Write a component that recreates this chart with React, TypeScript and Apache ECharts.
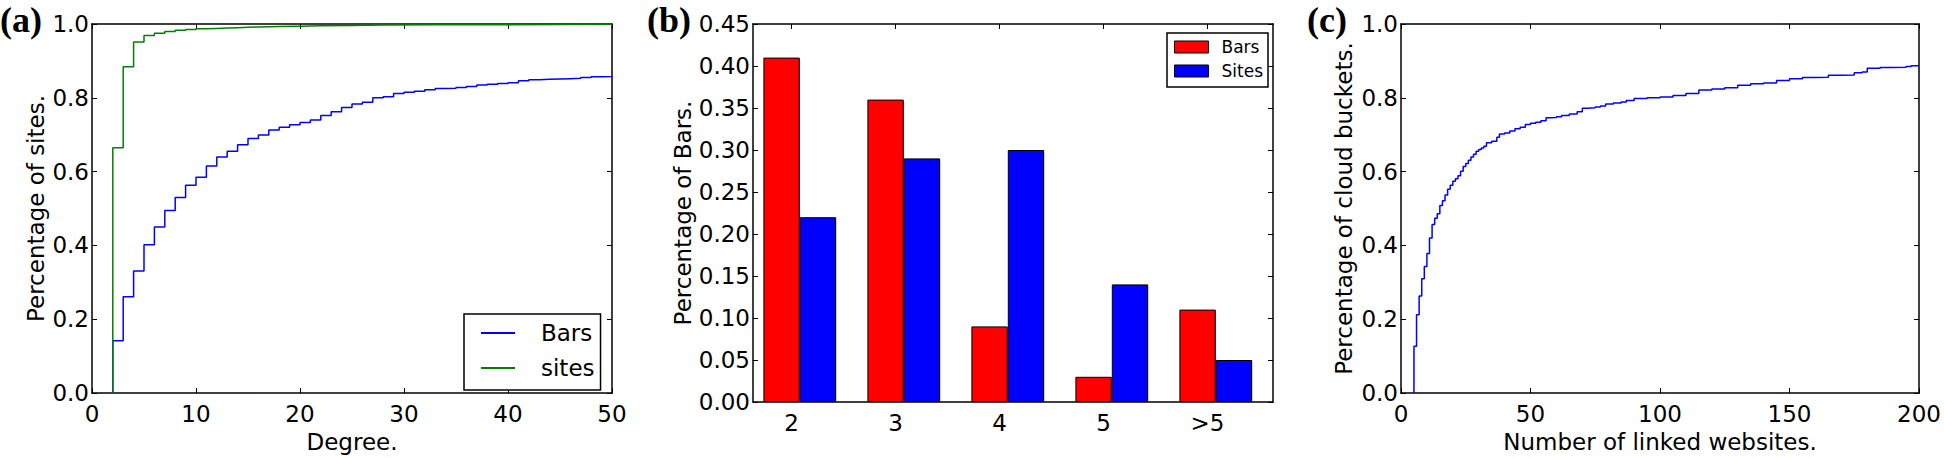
import React, { useEffect, useRef } from "react";
import * as echarts from "echarts";

// ---------- Panel (a): CDF of degree ----------
const barsDegree = [2,3,4,5,6,7,8,9,10,11,12,13,14,15,16,17,18,19,20,21,22,23,24,25,26,27,28,29,30,31,32,33,34,35,36,37,38,39,40,41,42,43,44,45,46,47,48,49,50];
const barsCdf = [0.142,0.261,0.331,0.402,0.450,0.495,0.530,0.563,0.585,0.615,0.640,0.655,0.673,0.690,0.699,0.713,0.720,0.727,0.733,0.740,0.752,0.762,0.774,0.783,0.788,0.800,0.803,0.812,0.815,0.818,0.822,0.825,0.826,0.828,0.831,0.835,0.837,0.839,0.841,0.846,0.849,0.850,0.851,0.852,0.853,0.855,0.857,0.858,0.860];
const sitesDegree = [2,3,4,5,6,7,8,9,10,11,12,13,14,15,16,18,20,22,25,28,33,40,50];
const sitesCdf = [0.665,0.884,0.951,0.969,0.975,0.980,0.983,0.985,0.987,0.988,0.989,0.990,0.991,0.992,0.993,0.994,0.995,0.996,0.997,0.998,0.998,0.999,0.999];

// ---------- Panel (b): grouped bars ----------
const bCategories = ["2", "3", "4", "5", ">5"];
const bBars = [0.41, 0.36, 0.09, 0.03, 0.11];
const bSites = [0.22, 0.29, 0.30, 0.14, 0.05];

// ---------- Panel (c): CDF of linked websites ----------
const webX = [5,6,7,8,9,10,11,12,13,14,15,16,17,18,19,20,21,22,23,24,25,26,27,28,29,30,31,32,33,35,37,38,40,42,44,46,48,50,52,54,56,58,60,62,65,68,70,72,75,77,79,82,85,87,90,95,100,105,110,115,120,125,130,135,140,145,150,155,160,165,170,175,178,180,185,190,195,197,200];
const webCdf = [0.127,0.212,0.263,0.310,0.343,0.378,0.420,0.457,0.474,0.486,0.508,0.521,0.537,0.552,0.563,0.574,0.581,0.589,0.601,0.614,0.622,0.631,0.640,0.647,0.655,0.660,0.664,0.669,0.678,0.682,0.693,0.702,0.705,0.710,0.716,0.720,0.728,0.731,0.734,0.738,0.746,0.747,0.749,0.752,0.756,0.762,0.772,0.773,0.775,0.778,0.783,0.786,0.789,0.793,0.798,0.800,0.802,0.806,0.812,0.821,0.824,0.827,0.834,0.838,0.840,0.847,0.852,0.855,0.856,0.861,0.862,0.868,0.870,0.880,0.882,0.883,0.885,0.887,0.888];

const FONT = '"DejaVu Sans", sans-serif';
const TXT = { color: "#000", fontFamily: FONT, fontSize: 23 };
const BAR_W = 0.35;
const TICK_OFF = 0.27;

const line = { show: true, onZero: false, lineStyle: { color: "#000", width: 1.5 } };
const tick = { show: true, inside: true, length: 5, lineStyle: { color: "#000", width: 1 } };

function cdfData(xs: number[], ys: number[]) {
  const d: number[][] = [[xs[0], 0]];
  xs.forEach((x, i) => d.push([x, ys[i]]));
  return d;
}

function xPair(grid: number, min: number, max: number, interval: number | undefined, name: string, extra: any = {}) {
  const bottom: any = {
    type: "value", gridIndex: grid, position: "bottom", min, max,
    name, nameLocation: "middle", nameGap: 36, nameTextStyle: TXT,
    axisLine: line, axisTick: { ...tick, ...(extra.tick || {}) },
    axisLabel: { ...TXT, margin: 9, showMinLabel: true, showMaxLabel: true, ...(extra.label || {}) },
    splitLine: { show: false },
  };
  const top: any = {
    type: "value", gridIndex: grid, position: "top", min, max,
    axisLine: line, axisTick: { ...tick, ...(extra.tick || {}) },
    axisLabel: { show: false }, splitLine: { show: false },
  };
  if (interval !== undefined) { bottom.interval = interval; top.interval = interval; }
  return [bottom, top];
}

function yPair(grid: number, max: number, interval: number, name: string, gap: number, digits: number) {
  return [
    {
      type: "value", gridIndex: grid, position: "left", min: 0, max, interval,
      name, nameLocation: "middle", nameGap: gap, nameTextStyle: TXT,
      axisLine: line, axisTick: tick,
      axisLabel: { ...TXT, margin: 3, formatter: (v: number) => v.toFixed(digits) },
      splitLine: { show: false },
    },
    {
      type: "value", gridIndex: grid, position: "right", min: 0, max, interval,
      axisLine: line, axisTick: tick, axisLabel: { show: false }, splitLine: { show: false },
    },
  ];
}

const bTickPos = bCategories.map((_, i) => i + TICK_OFF);

export default function App() {
  const ref = useRef<HTMLDivElement>(null);
  useEffect(() => {
    const chart = echarts.init(ref.current!, null, { renderer: "svg" });
    const option: any = {
      animation: false,
      backgroundColor: "#fff",
      textStyle: { fontFamily: FONT },
      grid: [
        { left: 92, top: 24, width: 520, height: 378 },
        { left: 753, top: 24, width: 520, height: 378 },
        { left: 1401, top: 24, width: 520, height: 378 },
      ],
      xAxis: [
        ...xPair(0, 0, 50, 10, "Degree."),
        ...xPair(1, -0.1, 4.9, undefined, "", {
          tick: { customValues: bTickPos },
          label: {
            customValues: bTickPos,
            formatter: (v: number) => bCategories[Math.round(v - TICK_OFF)] ?? "",
          },
        }),
        ...xPair(2, 0, 200, 50, "Number of linked websites."),
      ],
      yAxis: [
        ...yPair(0, 1, 0.2, "Percentage of sites.", 45, 1),
        ...yPair(1, 0.45, 0.05, "Percentage of Bars.", 55, 2),
        ...yPair(2, 1, 0.2, "Percentage of cloud buckets.", 46, 1),
      ],
      legend: [
        {
          data: ["a:Bars", "a:sites"], orient: "vertical", left: 464, top: 314,
          itemWidth: 34, itemHeight: 14, itemGap: 9, padding: [6, 6, 9, 16],
          borderColor: "#000", borderWidth: 1.5, borderRadius: 0, backgroundColor: "#fff",
          formatter: (n: string) => n.split(":")[1],
          textStyle: { ...TXT, lineHeight: 26, padding: [0, 0, 0, 21] },
          selectedMode: false,
        },
        {
          data: ["b:Bars", "b:Sites"], orient: "vertical", left: 1167, top: 33,
          itemWidth: 34, itemHeight: 12, itemGap: 4, padding: [4, 5, 6, 7],
          borderColor: "#000", borderWidth: 1.5, borderRadius: 0, backgroundColor: "#fff",
          formatter: (n: string) => n.split(":")[1],
          textStyle: { ...TXT, fontSize: 17, lineHeight: 20, padding: [0, 0, 0, 8] },
          itemStyle: { borderColor: "#000", borderWidth: 1 },
          icon: "rect",
          selectedMode: false,
        },
      ],
      graphic: [
        { type: "text", left: 0, top: 2, style: { text: "(a)", font: 'bold 36px "Liberation Serif"', fill: "#000" } },
        { type: "text", left: 647, top: 2, style: { text: "(b)", font: 'bold 36px "Liberation Serif"', fill: "#000" } },
        { type: "text", left: 1307, top: 2, style: { text: "(c)", font: 'bold 36px "Liberation Serif"', fill: "#000" } },
      ],
      series: [
        {
          type: "line", name: "a:Bars", xAxisIndex: 0, yAxisIndex: 0, step: "end",
          symbol: "line", showSymbol: false, data: cdfData(barsDegree, barsCdf),
          lineStyle: { color: "#0000ff", width: 1.5 }, itemStyle: { color: "#0000ff" },
        },
        {
          type: "line", name: "a:sites", xAxisIndex: 0, yAxisIndex: 0, step: "end",
          symbol: "line", showSymbol: false, data: cdfData(sitesDegree, sitesCdf),
          lineStyle: { color: "#008000", width: 1.5 }, itemStyle: { color: "#008000" },
        },
        {
          type: "bar", name: "b:Bars", xAxisIndex: 2, yAxisIndex: 2, barWidth: BAR_W * 104, barGap: "-100%",
          data: bBars.map((v, i) => [i + BAR_W / 2, v]),
          itemStyle: { color: "#ff0000", borderColor: "#000", borderWidth: 1 },
        },
        {
          type: "bar", name: "b:Sites", xAxisIndex: 2, yAxisIndex: 2, barWidth: BAR_W * 104, barGap: "-100%",
          data: bSites.map((v, i) => [i + BAR_W * 1.5, v]),
          itemStyle: { color: "#0000ff", borderColor: "#000", borderWidth: 1 },
        },
        {
          type: "line", name: "c:web", xAxisIndex: 4, yAxisIndex: 4, step: "end",
          symbol: "none", data: cdfData(webX, webCdf),
          lineStyle: { color: "#0000ff", width: 1.5 }, itemStyle: { color: "#0000ff" },
        },
      ],
    };
    chart.setOption(option);
    return () => chart.dispose();
  }, []);
  return (
    <div
      ref={ref}
      style={{ position: "absolute", left: 0, top: 0, width: 1944, height: 458, background: "#fff" }}
    />
  );
}
